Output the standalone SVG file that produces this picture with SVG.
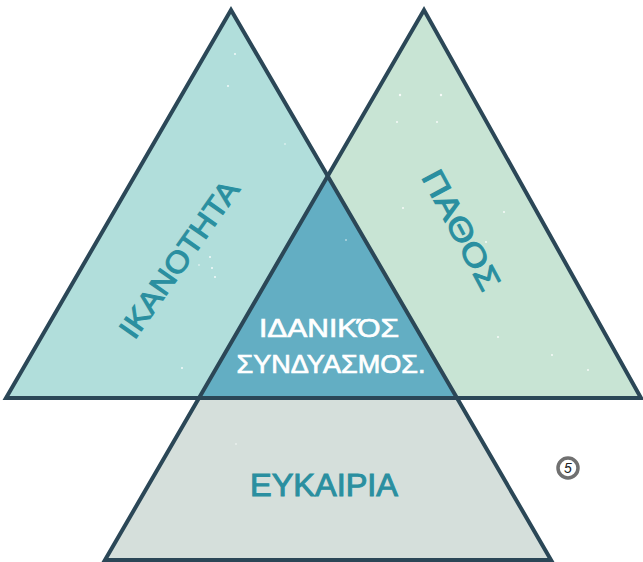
<svg xmlns="http://www.w3.org/2000/svg" width="643" height="562" viewBox="0 0 643 562">
<style>
.edge{fill:none;stroke:#2b4757;stroke-width:4;stroke-linejoin:miter}
.lbl{font-family:"Liberation Sans",Arial,sans-serif;fill:#2a8fa0;stroke:#2a8fa0;stroke-width:1;text-anchor:middle;dominant-baseline:central}
.wl{font-family:"Liberation Sans",Arial,sans-serif;fill:#ffffff;stroke:#ffffff;stroke-width:0.7;font-size:25px;text-anchor:middle}
.dot{fill:#ffffff;opacity:0.85}
</style>
<rect width="643" height="562" fill="#ffffff"/>
<g id="ikanotita">
<polygon points="6,398 231,10 457,398" fill="#b1dedb"/>
</g>
<g id="pathos">
<polygon points="199,398 424,10 643,398" fill="#c8e4d4"/>
</g>
<g id="idanikos">
<polygon points="199,398 328,174 457,398" fill="#63aec3"/>
</g>
<g id="eykairia">
<polygon points="199,398 457,398 551,561 105,561" fill="#d5dfdb"/>
</g>
<g id="speckles">
<circle class="dot" cx="235" cy="54" r="1"/>
<circle class="dot" cx="228" cy="86" r="1"/>
<circle class="dot" cx="400" cy="95" r="1.2"/>
<circle class="dot" cx="441" cy="95" r="1.2"/>
<circle class="dot" cx="397" cy="122" r="1"/>
<circle class="dot" cx="437" cy="122" r="1"/>
<circle class="dot" cx="285" cy="144" r="0.8"/>
<circle class="dot" cx="498" cy="337" r="1"/>
<circle class="dot" cx="552" cy="355" r="1"/>
<circle class="dot" cx="588" cy="370" r="1"/>
<circle class="dot" cx="210" cy="257" r="1"/>
<circle class="dot" cx="212" cy="268" r="1"/>
<circle class="dot" cx="199" cy="265" r="0.8"/>
<circle class="dot" cx="215" cy="277" r="1"/>
<circle class="dot" cx="403" cy="208" r="1"/>
<circle class="dot" cx="504" cy="212" r="1"/>
<circle class="dot" cx="486" cy="242" r="1"/>
<circle class="dot" cx="182" cy="368" r="1"/>
<circle class="dot" cx="236" cy="444" r="0.8"/>
<circle class="dot" cx="346" cy="240" r="0.8"/>
</g>
<g id="connectors">
<polygon class="edge" points="6,398 231,10 457,398"/>
<polygon class="edge" points="199,398 424,10 641,398"/>
<polygon class="edge" points="199,398 457,398 551,560 105,560"/>
</g>
<g id="labels">
<text class="lbl" font-size="30" transform="translate(179,259) rotate(-55)" textLength="185" lengthAdjust="spacingAndGlyphs">ΙΚΑΝΟΤΗΤΑ</text>
<text class="lbl" font-size="31" transform="translate(461,230) rotate(62)" textLength="132" lengthAdjust="spacingAndGlyphs">ΠΑΘΟΣ</text>
<text class="lbl" font-size="31" x="324" y="485" textLength="148" lengthAdjust="spacingAndGlyphs">ΕΥΚΑΙΡΙΑ</text>
<text class="wl" x="329" y="337" textLength="140" lengthAdjust="spacingAndGlyphs">ΙΔΑΝΙΚΌΣ</text>
<text class="wl" x="331" y="373" textLength="189" lengthAdjust="spacingAndGlyphs">ΣΥΝΔΥΑΣΜΟΣ.</text>
</g>
<g id="page-number">
<circle cx="568" cy="468" r="10" fill="#ffffff" stroke="#707070" stroke-width="3.5"/>
<text x="568" y="473" font-family="Liberation Sans,Arial,sans-serif" font-size="14" font-style="italic" fill="#222" text-anchor="middle">5</text>
</g>
</svg>
